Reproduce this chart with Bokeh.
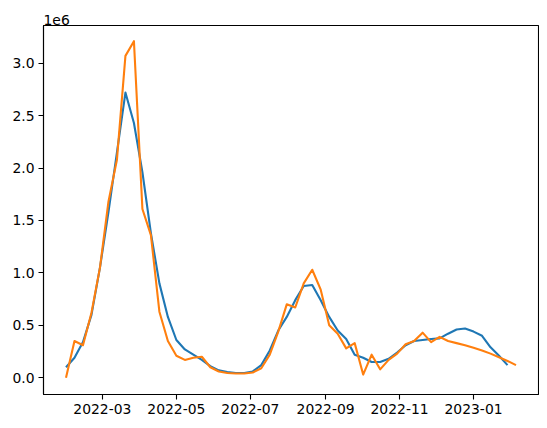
import pandas as pd
from bokeh.plotting import figure
from bokeh.models import Range1d, FixedTicker, DatetimeTickFormatter, NumeralTickFormatter
from bokeh.embed import file_html
from bokeh.resources import INLINE

# values in units of 1e6
blue = [0.10, 0.19, 0.34, 0.60, 1.05, 1.58, 2.15, 2.72, 2.43, 1.96,
        1.38, 0.90, 0.58, 0.36, 0.27, 0.22, 0.17, 0.11, 0.07, 0.055,
        0.045, 0.045, 0.06, 0.12, 0.26, 0.45, 0.58, 0.74, 0.875, 0.885,
        0.74, 0.58, 0.45, 0.37, 0.22, 0.19, 0.15, 0.15, 0.18, 0.24,
        0.31, 0.35, 0.36, 0.37, 0.375, 0.42, 0.46, 0.47, 0.44, 0.40,
        0.29, 0.21, 0.12]
orange = [0.00, 0.35, 0.31, 0.62, 1.05, 1.68, 2.08, 3.07, 3.21, 1.61,
          1.36, 0.63, 0.35, 0.21, 0.17, 0.19, 0.20, 0.10, 0.06, 0.045,
          0.04, 0.04, 0.05, 0.09, 0.22, 0.44, 0.70, 0.67, 0.90, 1.03,
          0.84, 0.50, 0.42, 0.28, 0.33, 0.03, 0.22, 0.08, 0.17, 0.23,
          0.32, 0.35, 0.43, 0.34, 0.39, 0.35, 0.33, 0.31, 0.285, 0.26,
          0.23, 0.195, 0.16, 0.12]
start_date = "2022-01-30"
tick_dates = ["2022-03-01", "2022-05-01", "2022-07-01", "2022-09-01", "2022-11-01", "2023-01-01"]
y_ticks = [0.0, 0.5, 1.0, 1.5, 2.0, 2.5, 3.0]
scale_text = "1e6"

dates_blue = pd.date_range(start_date, periods=len(blue), freq="7D")
dates_orange = pd.date_range(start_date, periods=len(orange), freq="7D")

pad = (dates_orange[-1] - dates_orange[0]) * 0.05
x0 = dates_orange[0] - pad
x1 = dates_orange[-1] + pad

FONT = "DejaVu Sans"
FS = "13.9px"

p = figure(x_axis_type="datetime", output_backend="svg", toolbar_location=None,
           frame_width=495, frame_height=369,
           min_border_left=43, min_border_top=25, min_border_right=1, min_border_bottom=25,
           x_range=Range1d(x0, x1), y_range=Range1d(-0.16, 3.36))
p.background_fill_color = "white"
p.border_fill_color = "white"
p.outline_line_color = "black"
p.outline_line_width = 1.1
p.xgrid.visible = False
p.ygrid.visible = False

p.title.text = scale_text
p.title.align = "left"
p.title.text_font = FONT
p.title.text_font_size = FS
p.title.text_font_style = "normal"
p.title.text_color = "black"
p.title.standoff = 2
p.title.offset = 0

p.line(dates_blue, blue, line_color="#1f77b4", line_width=2.1, line_join="round")
p.line(dates_orange, orange, line_color="#ff7f0e", line_width=2.1, line_join="round")

tick_ms = [pd.Timestamp(d).value / 1e6 for d in tick_dates]
p.xaxis.ticker = FixedTicker(ticks=tick_ms)
fmt = "%Y-%m"
p.xaxis.formatter = DatetimeTickFormatter(years=fmt, months=fmt, days=fmt, hours=fmt,
                                          minutes=fmt, seconds=fmt, milliseconds=fmt,
                                          microseconds=fmt, minsec=fmt, hourmin=fmt)
p.yaxis.ticker = FixedTicker(ticks=y_ticks)
p.yaxis.formatter = NumeralTickFormatter(format="0.0")

for ax in (p.xaxis[0], p.yaxis[0]):
    ax.axis_line_color = "black"
    ax.axis_line_width = 1.1
    ax.major_tick_line_color = "black"
    ax.major_tick_line_width = 1.1
    ax.major_tick_out = 5
    ax.major_tick_in = 0
    ax.minor_tick_line_color = None
    ax.major_label_text_font = FONT
    ax.major_label_text_font_size = FS
    ax.major_label_text_color = "black"
    ax.major_label_standoff = 4

open("out.html", "w").write(file_html(p, INLINE))
